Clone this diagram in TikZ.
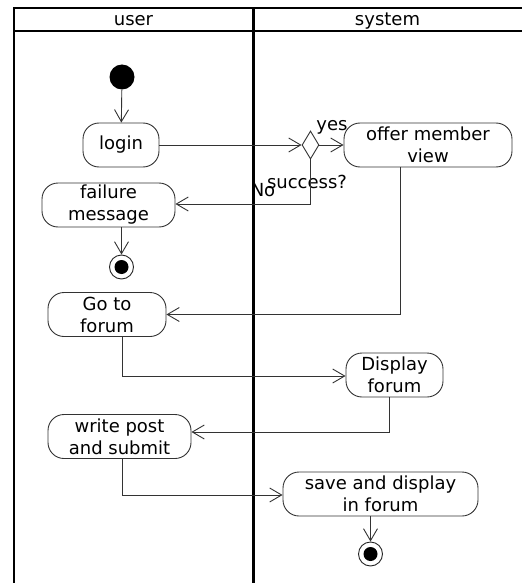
\documentclass[tikz,border=0pt]{standalone}
\usepackage{fontspec}
\setmainfont{DejaVu Sans}
\usetikzlibrary{arrows.meta,shapes.geometric}
\begin{document}
\begin{tikzpicture}[x=1pt,y=-1pt,
  font=\fontsize{18}{22}\selectfont,
  act/.style={draw=black!80, line width=0.9pt, rounded corners=16pt, align=center, inner sep=0pt, minimum height=44pt},
  lane/.style={line width=2.2pt, black},
  flow/.style={draw=black!80, line width=0.9pt, -{Straight Barb[length=12pt,width=14pt,line width=0.9pt]}},
  initst/.style={circle, fill=black, inner sep=0pt, minimum width=25pt, minimum height=23pt},
  finst/.style={circle, draw=black!85, line width=0.9pt, fill=white, inner sep=0pt, minimum size=24pt},
  lbl/.style={inner sep=0pt}
]
\useasboundingbox (0,0) rectangle (522,583);
% swimlanes
\draw[lane] (14,583) -- (14,8) -- (522,8);
\draw[lane] (14,31) -- (522,31);
\draw[lane] (253.5,8) -- (253.5,583);
\node[lbl] (huser) at (133.5,21) {user};
\node[lbl] (hsys) at (387.5,21) {system};
% nodes
\node[initst] (init) at (122,77) {};
\node[act, minimum width=76pt] (login) at (121,145) {login};
\node[diamond, draw=black!80, line width=0.9pt, inner sep=0pt, minimum width=17pt, minimum height=28pt, fill=white] (dia) at (310.5,145) {};
\node[act, minimum width=168pt] (offer) at (428,145) {offer member\\view};
\node[act, minimum width=133pt] (fail) at (108.5,205) {failure\\message};
\node[finst] (fin1) at (121.5,267) {};
\fill[black] (fin1.center) circle (7pt);
\node[act, minimum width=118pt] (goto) at (107,314.5) {Go to\\forum};
\node[act, minimum width=97pt] (disp) at (394.5,375) {Display\\forum};
\node[act, minimum width=143pt] (write) at (119.5,436.5) {write post\\and submit};
\node[act, minimum width=195pt] (save) at (380.5,494) {save and display\\in forum};
\node[finst] (fin2) at (370.5,554) {};
\fill[black] (fin2.center) circle (7pt);
% labels
\node[lbl] (yes) at (332,127) {yes};
\node[lbl] (succ) at (307,182) {success?};
\node[lbl] (no) at (263,190) {No};
% connectors
\draw[flow] (init) -- (login);
\draw[flow] (login.east) -- (dia.west);
\draw[flow] (dia.east) -- (offer.west);
\draw[flow] (dia.south) |- ([yshift=1pt]fail.east);
\draw[flow] (fin1.north |- fail.south) -- (fin1.north);
\draw[flow] ([xshift=-28pt]offer.south) |- (goto.east);
\draw[flow] ([xshift=15pt]goto.south) |- ([yshift=-1pt]disp.west);
\draw[flow] ([xshift=-5.5pt]disp.south) |- ([yshift=4.5pt]write.east);
\draw[flow] ([xshift=2.5pt]write.south) |- ([yshift=-1pt]save.west);
\draw[flow] (fin2.north |- save.south) -- (fin2.north);
\end{tikzpicture}
\end{document}
